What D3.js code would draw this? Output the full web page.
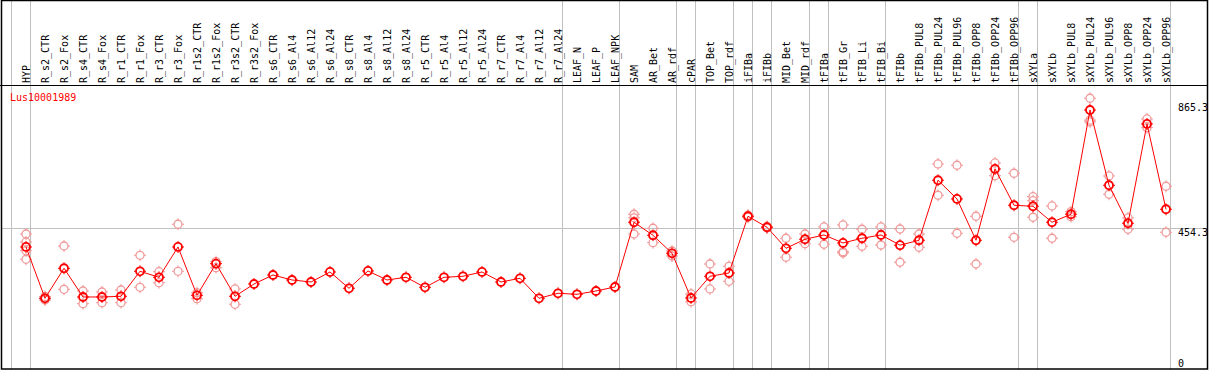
<!DOCTYPE html>
<html>
<head>
<script src="https://d3js.org/d3.v7.min.js"></script>
<style>
  body { margin: 0; background: #fff; }
  text { font-family: "DejaVu Sans Mono", monospace; font-size: 10px; }
</style>
</head>
<body>
<svg width="1209" height="370"></svg>
<script>
var geneName = "Lus10001989";

var categories = ["HYP", "R_s2_CTR", "R_s2_Fox", "R_s4_CTR", "R_s4_Fox", "R_r1_CTR", "R_r1_Fox",
  "R_r3_CTR", "R_r3_Fox", "R_r1s2_CTR", "R_r1s2_Fox", "R_r3s2_CTR", "R_r3s2_Fox", "R_s6_CTR",
  "R_s6_Al4", "R_s6_Al12", "R_s6_Al24", "R_s8_CTR", "R_s8_Al4", "R_s8_Al12", "R_s8_Al24",
  "R_r5_CTR", "R_r5_Al4", "R_r5_Al12", "R_r5_Al24", "R_r7_CTR", "R_r7_Al4", "R_r7_Al12",
  "R_r7_Al24", "LEAF_N", "LEAF_P", "LEAF_NPK", "SAM", "AR_Bet", "AR_rdf", "cPAR", "TOP_Bet",
  "TOP_rdf", "iFIBa", "iFIBb", "MID_Bet", "MID_rdf", "tFIBa", "tFIB_Gr", "tFIB_Li", "tFIB_Bi",
  "tFIBb", "tFIBb_PUL8", "tFIBb_PUL24", "tFIBb_PUL96", "tFIBb_OPP8", "tFIBb_OPP24", "tFIBb_OPP96",
  "sXYLa", "sXYLb", "sXYLb_PUL8", "sXYLb_PUL24", "sXYLb_PUL96", "sXYLb_OPP8", "sXYLb_OPP24",
  "sXYLb_OPP96"];

// mean expression per sample
var means = [388.4, 209.7, 314.2, 214.2, 214.2, 216.6, 303.7,
  282.8, 388.4, 220.1, 330.2, 216.6, 259.5, 290.8,
  273.4, 266.4, 301.3, 244.5, 304.8, 273.4, 282.8,
  248.0, 282.8, 286.3, 301.3, 266.4, 279.3, 209.7,
  227.1, 223.6, 235.1, 249.0, 474.4, 429.1, 366.4, 210.7, 286.3,
  297.8, 495.3, 457.0, 383.8, 415.2, 430.2, 402.3, 418.7, 430.2,
  394.6, 411.7, 620.7, 555.5, 411.7, 660.0, 533.6,
  530.1, 474.4, 502.3, 865.3, 603.2, 470.9, 816.8,
  519.7];

// individual replicates
var replicates = [
  [433.6, 405.8, 375.5, 345.5], [216.0, 209.7, 203.8], [391.8, 241.0], [235.1, 190.9], [231.6, 194.4],
  [238.6, 194.4], [359.4, 248.0], [302.3, 264.0], [467.4, 303.7], [229.2, 208.3], [337.2, 316.3],
  [242.1, 188.8], [], [], [], [], [], [], [], [], [], [], [], [], [], [], [], [], [], [], [], [],
  [502.3, 490.0, 433.6], [453.5, 403.3], [374.4, 357.0], [224.7, 197.8], [329.1, 242.1],
  [321.1, 268.9], [499.0, 492.0], [459.8, 454.6], [418.7, 352.5], [433.6, 399.8], [458.0, 397.8],
  [465.0, 372.0, 367.5], [450.0, 390.8], [458.0, 395.3], [451.0, 335.1], [433.6, 387.3],
  [677.4, 568.4], [672.9, 436.1], [495.3, 329.1], [680.9, 636.7], [645.0, 422.1],
  [563.5, 549.6, 491.8], [531.2, 418.7], [511.3, 493.9], [906.3, 823.7, 830.0], [635.6, 571.9],
  [489.4, 450.0], [834.2, 803.9], [599.8, 439.6]
];

// first category of each group (separator lines)
var groupStarts = ["HYP", "R_s2_CTR", "LEAF_N", "SAM", "cPAR", "TOP_Bet", "iFIBa", "iFIBb",
  "MID_Bet", "tFIBa", "tFIB_Gr", "tFIBb", "sXYLa", "sXYLb"];

var yTickValues = [865.3, 454.3, 0];

var svg = d3.select("svg");
var W = 1209, H = 370, headerY = 85.5;

var x = d3.scalePoint().domain(categories).range([26, 26 + 19 * (categories.length - 1)]);
var y = d3.scaleLinear().domain([0, 865.3]).range([358.5, 110]);

function sepX(idx) { return x.range()[0] + x.step() * idx - 15; }

var seps = groupStarts.map(function(c) { return categories.indexOf(c); });
seps.push(categories.length);

// separators
svg.selectAll(".sep").data(seps).enter().append("line")
  .attr("x1", function(d) { return sepX(d) + 0.5; })
  .attr("x2", function(d) { return sepX(d) + 0.5; })
  .attr("y1", 0).attr("y2", H)
  .attr("stroke", "#c0c0c0").attr("stroke-width", 1);

// horizontal grid at mid value
svg.append("line")
  .attr("x1", 1).attr("x2", 1207)
  .attr("y1", Math.round(y(454.3)) + 0.5).attr("y2", Math.round(y(454.3)) + 0.5)
  .attr("stroke", "#c0c0c0");

// header line and border
svg.append("line").attr("x1", 0).attr("x2", 1207).attr("y1", headerY).attr("y2", headerY)
  .attr("stroke", "#000");
svg.append("rect").attr("x", 1.5).attr("y", 0.5).attr("width", 1206).attr("height", 368.5)
  .attr("fill", "none").attr("stroke", "#000").attr("stroke-width", 1.5);

// category labels
svg.selectAll(".cat").data(categories).enter().append("text")
  .attr("transform", function(d) { return "translate(" + (x(d) + 3.5) + ",83) rotate(-90)"; })
  .attr("fill", "#000")
  .text(function(d) { return d; });

// y labels
svg.selectAll(".ylab").data(yTickValues).enter().append("text")
  .attr("x", 1178)
  .attr("y", function(d, i) { return y(d) + (i === 0 ? 1 : 8); })
  .attr("fill", "#000")
  .text(function(d) { return d === 0 ? "0" : d.toFixed(1); });

svg.append("text").attr("x", 10).attr("y", 100.5).attr("fill", "#f00").text(geneName);

function marker(g, cx, cy, color, sw) {
  g.append("circle").attr("cx", cx).attr("cy", cy).attr("r", 4)
    .attr("fill", "none").attr("stroke", color).attr("stroke-width", sw);
  g.append("path")
    .attr("d", "M" + cx + "," + (cy - 6) + "v2M" + cx + "," + (cy + 4) + "v2M" + (cx - 6) + "," + cy + "h2M" + (cx + 4) + "," + cy + "h2")
    .attr("stroke", color).attr("stroke-width", 1);
}

// replicates
var repG = svg.append("g");
replicates.forEach(function(reps, i) {
  reps.forEach(function(v) { marker(repG, x(categories[i]), y(v), "#f09999", 1.3); });
});

// mean line
var line = d3.line().x(function(d, i) { return x(categories[i]); }).y(function(d) { return y(d); });
svg.append("path").datum(means).attr("d", line)
  .attr("fill", "none").attr("stroke", "#f00").attr("stroke-width", 1);

var meanG = svg.append("g");
means.forEach(function(v, i) { marker(meanG, x(categories[i]), y(v), "#f00", 1.8); });
</script>
</body>
</html>
